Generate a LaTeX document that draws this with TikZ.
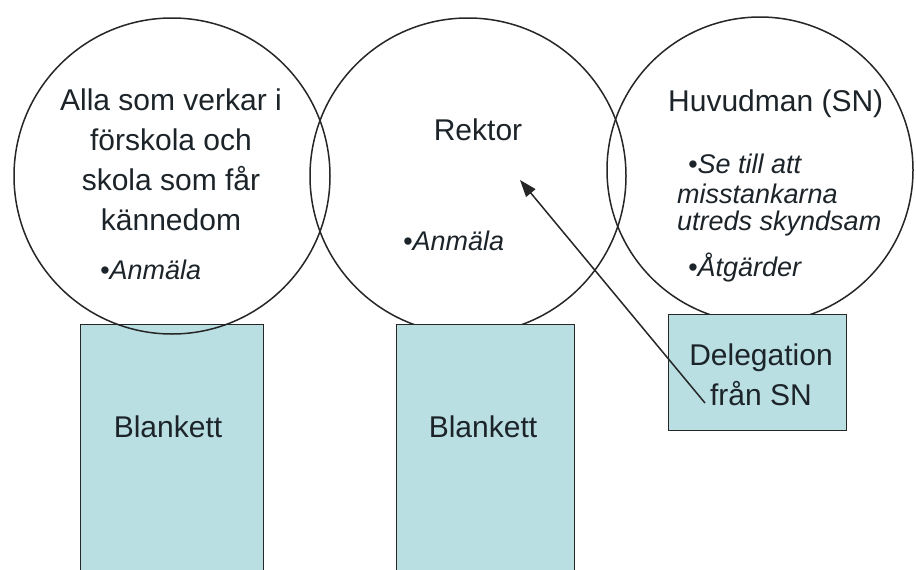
\documentclass[tikz,border=0pt]{standalone}
\usepackage{fontspec}
\setmainfont{Liberation Sans}
\usetikzlibrary{arrows.meta}
\definecolor{boxfill}{HTML}{B9DFE3}
\definecolor{ink}{HTML}{1C2429}
\begin{document}
\begin{tikzpicture}[x=1pt,y=-1pt,
  ring/.style={circle,draw=black!85,line width=1.5pt,minimum size=#1,inner sep=0pt},
  panel/.style={draw=black!85,fill=boxfill,line width=1.3pt,inner sep=0pt},
  big/.style={font=\fontsize{30}{36}\selectfont,text=ink,inner sep=0pt,anchor=base},
  bigw/.style={big,anchor=base west},
  ital/.style={font=\fontsize{27}{32}\selectfont\itshape,text=ink,inner sep=0pt,anchor=base west},
  link/.style={draw=black!85,line width=1.5pt,-{Triangle[length=17pt,width=12pt]}}]
\useasboundingbox (0,0) rectangle (916,570);
\fill[white] (0,0) rectangle (916,570);
% left box (circle arc shows through it)
\node[panel,minimum width=183pt,minimum height=248pt,anchor=north west] (b1) at (80,324) {};
% circles
\node[ring=316pt] (c1) at (172,176) {};
\node[ring=316pt] (c2) at (468,176) {};
\node[ring=306pt] (c3) at (760,170) {};
% middle and right boxes
\node[panel,minimum width=178pt,minimum height=248pt,anchor=north west] (b2) at (396,324) {};
\node[panel,minimum width=178pt,minimum height=116pt,anchor=north west] (b3) at (668,314) {};
% left circle text
\node[big] (t1) at (171,110) {Alla som verkar i};
\node[big] (t2) at (171,150) {förskola och};
\node[big] (t3) at (171,190) {skola som får};
\node[big] (t4) at (171,230) {kännedom};
\node[ital] (t5) at (100,279) {•Anmäla};
% middle circle text
\node[big] (r1) at (478,140) {Rektor};
\node[ital] (r2) at (403,250) {•Anmäla};
% right circle text
\node[bigw] (h1) at (668,111) {Huvudman (SN)};
\node[ital] (h2) at (688,173) {•Se till att};
\node[ital] (h3) at (677,203) {misstankarna};
\node[ital] (h4) at (677,230) {utreds skyndsam};
\node[ital] (h5) at (688,276) {•Åtgärder};
% box texts
\node[big] (k1) at (168,437) {Blankett};
\node[big] (k2) at (483,437) {Blankett};
\node[big] (d1) at (761,365) {Delegation};
\node[big] (d2) at (761,405) {från SN};
% arrow
\coordinate (as) at (705,403);
\coordinate (ae) at (520,180);
\draw[link] (as) -- (ae);
\end{tikzpicture}
\end{document}
